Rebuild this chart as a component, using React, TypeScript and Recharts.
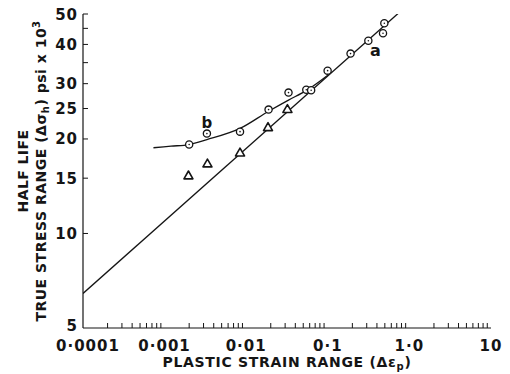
import { ComposedChart, Line, Scatter, XAxis, YAxis, Label, ReferenceDot } from 'recharts';

// circles (⊙) – curve b / line a points
const CIRCLE_X = [0.002, 0.0033, 0.0084, 0.0188, 0.033, 0.0545, 0.0625, 0.0995, 0.19, 0.314, 0.475, 0.493];
const CIRCLE_Y = [19.2, 20.8, 21.1, 24.8, 28.1, 28.7, 28.6, 33.0, 37.4, 41.1, 43.4, 46.7];

// triangles
const TRI_X = [0.00196, 0.00335, 0.0084, 0.0185, 0.032];
const TRI_Y = [15.3, 16.7, 18.1, 21.8, 24.9];

// line a (straight in log-log)
const LINE_A_X = [0.0001, 0.74];
const LINE_A_Y = [6.44, 50.4];

// curve b
const CURVE_B_X = [0.00073, 0.0012, 0.002, 0.0033, 0.0084, 0.0188, 0.033, 0.0545, 0.1];
const CURVE_B_Y = [18.75, 18.97, 19.2, 19.9, 21.6, 24.5, 26.6, 28.5, 31.9];

const X_MAJOR = [0.0001, 0.001, 0.01, 0.1, 1, 10];
const X_MAJOR_LABELS = ['0·0001', '0·001', '0·01', '0·1', '1·0', '10'];
const X_MINOR_MULT = [2, 3, 4, 5, 6, 7, 8, 9];

const Y_TICKS = [5, 10, 15, 20, 25, 30, 35, 40, 45, 50];
const Y_LABELS = ['5', '10', '15', '20', '25', '30', '', '40', '', '50'];

const zip = (xs: number[], ys: number[]) => xs.map((x, i) => ({ x, y: ys[i] }));
const circles = zip(CIRCLE_X, CIRCLE_Y);
const triangles = zip(TRI_X, TRI_Y);
const lineA = zip(LINE_A_X, LINE_A_Y);
const curveB = zip(CURVE_B_X, CURVE_B_Y);

const xTicks = [
  ...X_MAJOR,
  ...X_MAJOR.slice(0, -1).flatMap((d) => X_MINOR_MULT.map((m) => d * m)),
].sort((a, b) => a - b);

const INK = '#151515';
const FONT = '"DejaVu Sans", sans-serif';

const majorIndex = (v: number) => {
  const l = Math.log10(v);
  if (Math.abs(l - Math.round(l)) > 1e-6) return -1;
  return X_MAJOR.findIndex((m) => Math.abs(Math.log10(m) - l) < 1e-6);
};

const XTick = (props: any) => {
  const { x, y, payload } = props;
  const idx = majorIndex(payload.value);
  return (
    <g>
      {idx < 0 && <line x1={x} x2={x} y1={y} y2={y - 5} stroke={INK} strokeWidth={1} />}
      {idx >= 0 && (
        <text x={x + (idx === 0 ? 5 : 0)} y={y + 23} textAnchor="middle" fontFamily={FONT} fontSize={15}
          fontWeight="bold" letterSpacing={1} fill={INK}>
          {X_MAJOR_LABELS[idx]}
        </text>
      )}
    </g>
  );
};

const YTick = (props: any) => {
  const { x, y, payload } = props;
  const idx = Y_TICKS.indexOf(payload.value);
  const isBottom = payload.value === 5;
  return (
    <g>
      {!isBottom && <line x1={x} x2={x + 5} y1={y} y2={y} stroke={INK} strokeWidth={1} />}
      <text x={x - 5} y={y + (isBottom ? 3 : 5.5)} textAnchor="end" fontFamily={FONT} fontSize={15}
        fontWeight="bold" letterSpacing={1} fill={INK}>
        {Y_LABELS[idx]}
      </text>
    </g>
  );
};

const CircleMark = (props: any) => {
  const { cx, cy } = props;
  return (
    <g>
      <circle cx={cx} cy={cy} r={3.6} fill="#fff" stroke={INK} strokeWidth={1.3} />
      <circle cx={cx} cy={cy} r={0.8} fill={INK} />
    </g>
  );
};

const TriMark = (props: any) => {
  const { cx, cy } = props;
  const s = 4.5;
  return (
    <polygon
      points={`${cx},${cy - s} ${cx - s},${cy + s * 0.75} ${cx + s},${cy + s * 0.75}`}
      fill="#fff" stroke={INK} strokeWidth={1.6} strokeLinejoin="round"
    />
  );
};

const XTitle = () => (
  <text x={287} y={367} textAnchor="middle" fontFamily={FONT} fontSize={14} fontWeight="bold"
    letterSpacing={0.7} fill={INK}>
    PLASTIC STRAIN RANGE (Δε
    <tspan fontSize={10} dy={3}>p</tspan>
    <tspan dy={-3}>)</tspan>
  </text>
);

const YTitle = () => (
  <g fontFamily={FONT} fontSize={14} fontWeight="bold" fill={INK}>
    <text transform="translate(28,171) rotate(-90)" textAnchor="middle" letterSpacing={0.4}>HALF LIFE</text>
    <text transform="translate(46,171) rotate(-90)" textAnchor="middle" letterSpacing={0.5}>
      TRUE STRESS RANGE (Δσ
      <tspan fontSize={10} dy={3}>h</tspan>
      <tspan dy={-3}>) psi x 10</tspan>
      <tspan fontSize={10} dy={-6}>3</tspan>
    </text>
  </g>
);

const App = () => {
  return (
    <div style={{ position: 'absolute', left: 0, top: 0, background: '#fff' }}>
      <ComposedChart width={510} height={374} margin={{ top: 14, right: 19, bottom: 45, left: 82 }}>
        <XAxis dataKey="x" type="number" scale="log" domain={[0.0001, 10]} allowDataOverflow
          ticks={xTicks} interval={0} tick={<XTick />} tickLine={false} tickSize={0} tickMargin={0}
          axisLine={{ stroke: INK, strokeWidth: 1.2 }} height={1}>
          <Label content={<XTitle />} />
        </XAxis>
        <YAxis dataKey="y" type="number" scale="log" domain={[5, 50]} allowDataOverflow
          ticks={Y_TICKS} interval={0} tick={<YTick />} tickLine={false} tickSize={0} tickMargin={0}
          axisLine={{ stroke: INK, strokeWidth: 1.2 }} width={1}>
          <Label content={<YTitle />} />
        </YAxis>
        <Line data={lineA} dataKey="y" type="linear" stroke={INK} strokeWidth={1.3} dot={false} isAnimationActive={false} />
        <Line data={curveB} dataKey="y" type="monotone" stroke={INK} strokeWidth={1.3} dot={false} isAnimationActive={false} />
        <Scatter data={circles} dataKey="y" shape={<CircleMark />} isAnimationActive={false} />
        <Scatter data={triangles} dataKey="y" shape={<TriMark />} isAnimationActive={false} />
        <ReferenceDot x={0.383} y={38.4} r={0} fill="none" stroke="none"
          label={{ value: 'a', fontFamily: FONT, fontSize: 16, fontWeight: 'bold', fill: INK }} />
        <ReferenceDot x={0.0033} y={22.6} r={0} fill="none" stroke="none"
          label={{ value: 'b', fontFamily: FONT, fontSize: 15, fontWeight: 'bold', fill: INK }} />
      </ComposedChart>
    </div>
  );
};

export default App;
